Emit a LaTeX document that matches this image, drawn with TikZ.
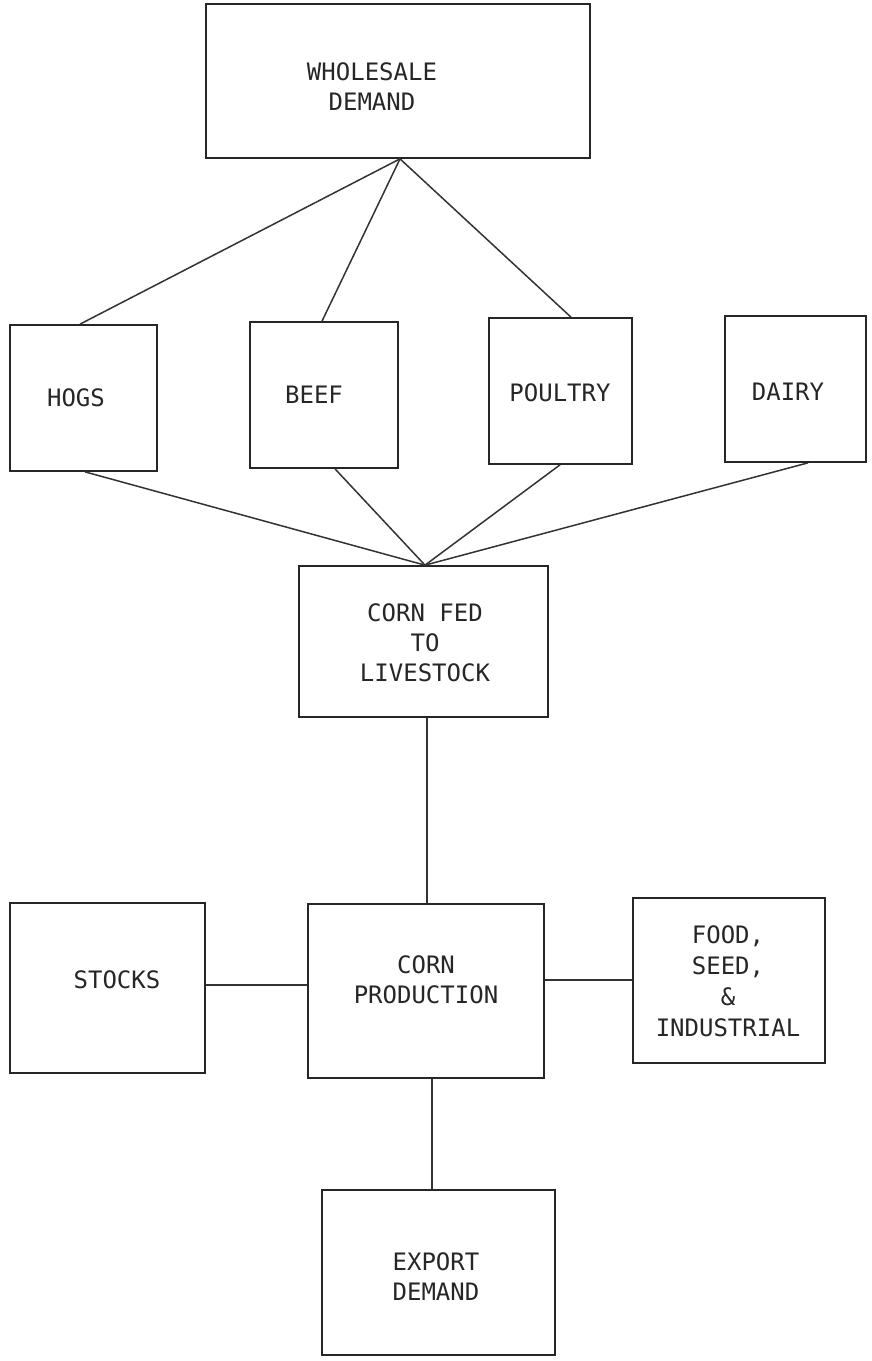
\documentclass[tikz,border=0pt]{standalone}
\usepackage{fontspec}
\newfontfamily\boxfont{DejaVu Sans Mono}
\tikzset{
  box/.style={draw=black!85, line width=1.7pt, inner sep=0pt, fill=none},
  lbl/.style={font=\boxfont\fontsize{24}{30}\selectfont, text=black!85, align=center, inner sep=0pt},
  link/.style={draw=black!80, line width=1.5pt}
}
\begin{document}
\begin{tikzpicture}[x=1pt,y=-1pt]
\useasboundingbox (0,0) rectangle (871,1361);
% boxes
\node[box, minimum width=384pt, minimum height=154pt] (w) at (398,81) {};
\node[box, minimum width=147pt, minimum height=146pt] (hogs) at (83.5,398) {};
\node[box, minimum width=148pt, minimum height=146pt] (beef) at (324,395) {};
\node[box, minimum width=143pt, minimum height=146pt] (poul) at (560.5,391) {};
\node[box, minimum width=141pt, minimum height=146pt] (dairy) at (795.5,389) {};
\node[box, minimum width=249pt, minimum height=151pt] (fed) at (423.5,641.5) {};
\node[box, minimum width=195pt, minimum height=170pt] (stocks) at (107.5,988) {};
\node[box, minimum width=236pt, minimum height=174pt] (prod) at (426,991) {};
\node[box, minimum width=192pt, minimum height=165pt] (food) at (729,980.5) {};
\node[box, minimum width=233pt, minimum height=165pt] (export) at (438.5,1272.5) {};
% texts
\node[lbl] (wt) at (372,87) {WHOLESALE\\DEMAND};
\node[lbl] (hogst) at (76,398) {HOGS};
\node[lbl] (beeft) at (314,395) {BEEF};
\node[lbl] (poult) at (560,393) {POULTRY};
\node[lbl] (dairyt) at (788,392) {DAIRY};
\node[lbl] (fedt) at (425,643) {CORN FED\\TO\\LIVESTOCK};
\node[lbl] (stockst) at (117,980) {STOCKS};
\node[lbl] (prodt) at (426,980) {CORN\\PRODUCTION};
\node[lbl, font=\boxfont\fontsize{24}{31}\selectfont] (foodt) at (728,981) {FOOD,\\SEED,\\\&\\INDUSTRIAL};
\node[lbl] (exportt) at (436,1277) {EXPORT\\DEMAND};
% connectors
\coordinate (apex) at ([xshift=2pt]w.south);
\draw[link] (apex) -- ([xshift=-3.5pt]hogs.north);
\draw[link] (apex) -- ([xshift=-2pt]beef.north);
\draw[link] (apex) -- ([xshift=10.5pt]poul.north);
\coordinate (conv) at ([xshift=1.5pt]fed.north);
\draw[link] ([xshift=1.5pt]hogs.south) -- (conv);
\draw[link] ([xshift=11pt]beef.south) -- (conv);
\draw[link] ([xshift=-0.5pt]poul.south) -- (conv);
\draw[link] ([xshift=12.5pt]dairy.south) -- (conv);
\draw[link] ([xshift=3.5pt]fed.south) -- ([xshift=1pt]prod.north);
\draw[link] ([yshift=3pt]stocks.east) -- ([yshift=6pt]prod.west);
\draw[link] ([yshift=11pt]prod.east) -- ([yshift=0.5pt]food.west);
\draw[link] ([xshift=6pt]prod.south) -- ([xshift=-6.5pt]export.north);
\end{tikzpicture}
\end{document}
